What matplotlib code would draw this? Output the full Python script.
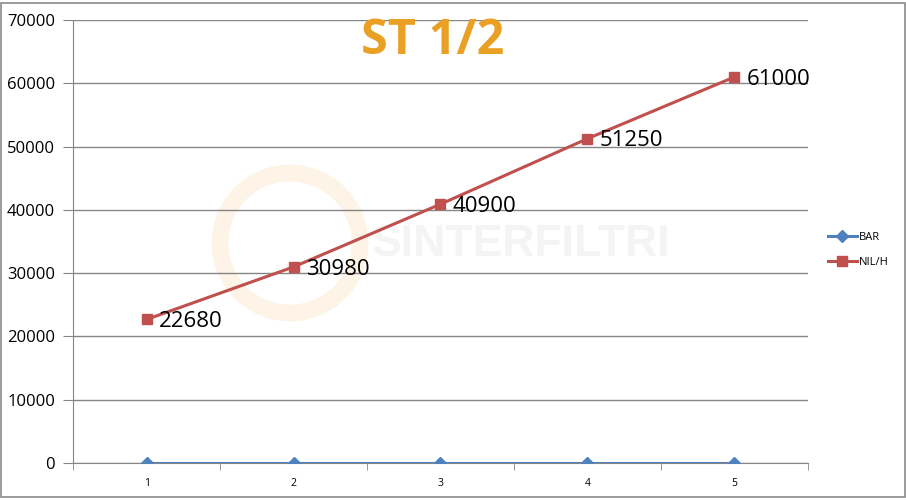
import matplotlib.pyplot as plt
from matplotlib.patches import Rectangle, Ellipse

categories = [1, 2, 3, 4, 5]
bar_values = [0, 0, 0, 0, 0]
nlh_values = [22680, 30980, 40900, 51250, 61000]
y_ticks = [0, 10000, 20000, 30000, 40000, 50000, 60000, 70000]

grid_col = "#868686"
blue = "#4F81BD"
red = "#C0504D"

fig = plt.figure(figsize=(9.06, 5.0), dpi=100)
ax = fig.add_axes([0.0806, 0.074, 0.8112, 0.886])

# faint watermark behind the plot
fig.patches.append(Ellipse((290 / 906, 1 - 243 / 500), 140 / 906, 140 / 500, transform=fig.transFigure,
                           fill=False, edgecolor="#FDF3E6", linewidth=12, zorder=-2))
fig.text(0.575, 1 - 245 / 500, "SINTERFILTRI", ha="center", va="center",
         fontsize=32, fontweight="bold", color="#F4F4F4", family="Liberation Sans", zorder=-1)

ax.set_facecolor("none")
ax.plot(categories, bar_values, color=blue, lw=2.2, marker="D", ms=6.5, label="BAR", zorder=3)
ax.plot(categories, nlh_values, color=red, lw=2.2, marker="s", ms=6.5, label="NIL/H", zorder=3)

for x, v in zip(categories, nlh_values):
    ax.annotate(str(v), (x, v), xytext=(9, -1.5), textcoords="offset points",
                ha="left", va="center", fontsize=16, family="Open Sans", color="black")

ax.set_xlim(0.5, 5.5)
ax.set_ylim(0, 70000)
ax.set_yticks(y_ticks)
ax.set_yticklabels([str(t) for t in y_ticks], fontsize=12, family="Open Sans")
ax.yaxis.grid(True, color=grid_col, lw=1)
ax.set_axisbelow(True)
ax.tick_params(axis="y", length=7, color=grid_col, pad=6)

ax.set_xticks(categories)
ax.set_xticklabels([str(c) for c in categories], fontsize=7.5, family="Open Sans")
ax.set_xticks([c - 0.5 for c in categories] + [5.5], minor=True)
ax.tick_params(axis="x", which="major", length=0, pad=11)
ax.tick_params(axis="x", which="minor", length=5, color=grid_col)

for s in ["top", "right"]:
    ax.spines[s].set_visible(False)
ax.spines["left"].set_color(grid_col)
ax.spines["bottom"].set_color(grid_col)

fig.text(433 / 906, 1 - 42 / 500, "ST 1/2", ha="center", va="center",
         fontsize=35, fontweight="bold", color="#E9A024", family="Open Sans")

fig.legend(loc="center left", bbox_to_anchor=(818 / 906, 1 - 250 / 500), frameon=False,
           handlelength=2.6, labelspacing=1.3, handletextpad=0.2,
           prop={"family": "Open Sans", "size": 8})

fig.patches.append(Rectangle((1 / 906, 3 / 500), 904 / 906, 494 / 500, transform=fig.transFigure,
                             fill=False, edgecolor="#8a8a8a", linewidth=1.2))

fig.savefig("out.png", dpi=100)
